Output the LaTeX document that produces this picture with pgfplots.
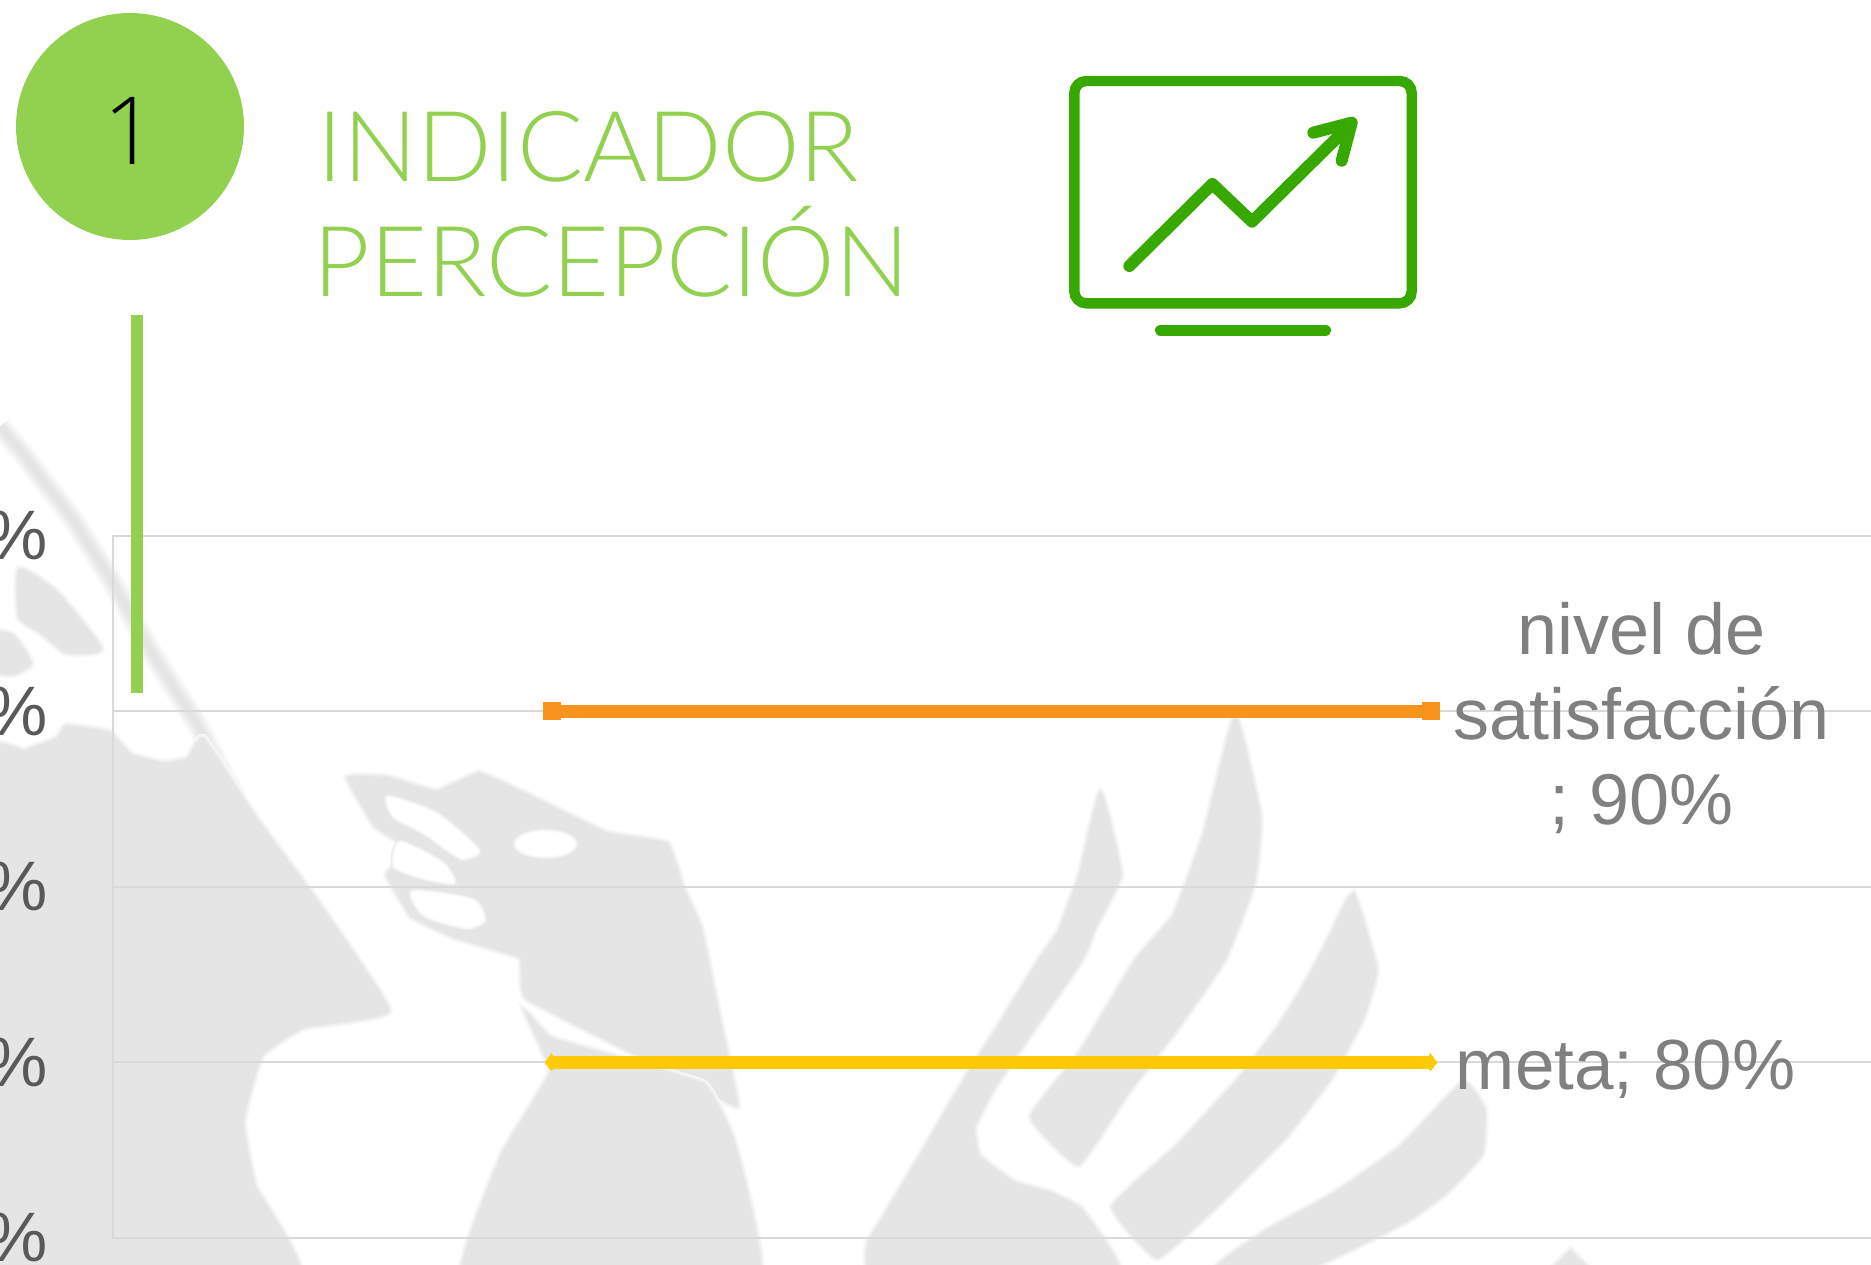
\documentclass[border=0pt]{standalone}
\usepackage{fontspec}
\setmainfont{Liberation Sans}
\newfontfamily\lightfont[UprightFont={* Light}]{Lato}
\newfontfamily\onefont[UprightFont={* Light}]{Open Sans}
\usepackage{pgfplots}
\pgfplotsset{compat=1.18}
\definecolor{wm}{HTML}{E5E5E5}
\definecolor{wmA}{HTML}{EAEAEA}
\definecolor{wmB}{HTML}{F1F1F1}
\definecolor{wmC}{HTML}{F8F8F8}
\definecolor{lime}{HTML}{92D050}
\definecolor{icon}{HTML}{37A800}
\definecolor{orangeL}{HTML}{F9931F}
\definecolor{yellowL}{HTML}{FFCB08}
\definecolor{gridc}{HTML}{D9D9D9}
\tikzset{
 wmp/.style={line join=round,
  preaction={draw=wmC,line width=5pt},
  preaction={draw=wmB,line width=3.4pt},
  preaction={draw=wmA,line width=2pt},
  fill=wm,draw=wm,line width=.8pt},
 holep/.style={line join=round,
  preaction={draw=wmA,line width=2.4pt},
  preaction={draw=wmB,line width=1.5pt},
  fill=white,draw=wmC,line width=.6pt}}
\begin{document}
\begin{tikzpicture}
\path[use as bounding box] (0pt,0pt) rectangle (935.5pt,632pt);
\clip (0pt,0pt) rectangle (935.5pt,632pt);
% ---- watermark (background decoration), in zoom-crop units
\begin{scope}[x=0.16667pt,y=-0.16667pt,shift={(0pt,482pt)}]
 \foreach \w/\c in {11pt/wmC,8.5pt/wmB,6pt/wmA,3.5pt/wm}
  \draw[\c,line width=\w,line join=round] (0,380) -- (60,450) -- (220,660) -- (340,850) -- (450,1050) -- (590,1270) -- (710,1500);
 \path[wmp] plot[smooth cycle,tension=.3] coordinates {(60,810) (170,880) (300,1045) (200,1055) (130,1000) (60,950)};
 \path[wmp] plot[smooth cycle,tension=.3] coordinates {(-20,1000) (40,1010) (90,1090) (40,1120) (-20,1110)};
\end{scope}
\begin{scope}[x=0.30303pt,y=-0.20542pt,shift={(0pt,322pt)}]
 \path[wmp] plot[smooth cycle,tension=.2] coordinates {(-30,1600) (-30,340) (40,320) (95,290) (110,260) (180,275) (215,330) (270,350) (310,340) (335,290) (420,480) (520,680) (640,950) (500,990) (430,1060) (400,1220) (420,1380) (490,1600)};
 \path[wmp] plot[smooth cycle,tension=.15] coordinates {(575,385) (640,385) (720,420) (790,375) (860,420) (1000,520) (1100,545) (1125,650) (1155,750) (1190,1000) (1215,1180) (1150,1130) (870,920) (860,820) (750,770) (680,720) (640,620) (680,560) (620,500)};
 \path[holep] (900,545) ellipse (50 and 32);
 \path[holep] plot[smooth cycle,tension=.4] coordinates {(640,430) (720,470) (790,560) (760,580) (700,520) (650,480)};
 \path[holep] plot[smooth cycle,tension=.4] coordinates {(680,660) (780,680) (800,730) (770,750) (700,720)};
 \path[holep] plot[smooth cycle,tension=.4] coordinates {(660,540) (730,590) (750,640) (700,630) (650,600)};
 \path[wmp] plot[smooth cycle,tension=.15] coordinates {(870,960) (910,1020) (1160,1130) (1210,1270) (1250,1600) (765,1600) (830,1300) (910,1100)};
\end{scope}
\begin{scope}[x=0.2551pt,y=-0.16667pt,shift={(400pt,152pt)}]
 % large left feather and body
 \path[wmp] plot[smooth cycle,tension=.2] coordinates {(589,-496) (627,-256) (580,-108) (550,0) (460,200) (380,380) (340,500) (350,590) (420,670) (490,700) (550,750) (620,940) (150,940) (135,850) (170,760) (240,580) (320,370) (390,200) (470,0) (508,-84) (550,-256)};
 \path[wmp] plot[smooth cycle,tension=.2] coordinates {(853,-724) (900,-429) (888,-231) (830,0) (740,200) (640,400) (545,610) (455,470) (550,280) (660,0) (734,-132) (794,-379)};
 \path[wmp] plot[smooth cycle,tension=.2] coordinates {(1084,-195) (1128,30) (1100,180) (1040,350) (950,530) (820,730) (700,890) (615,740) (740,560) (860,360) (940,200) (1000,50) (1040,-70)};
 \path[wmp] plot[smooth cycle,tension=.2] coordinates {(1300,370) (1340,450) (1335,580) (1270,690) (1190,780) (1000,920) (820,920) (920,810) (1050,700) (1180,560)};
 \path[wmp] (1475,930) -- (1510,875) -- (1545,930) -- cycle;
\end{scope}
% ---- chart
\begin{axis}[
 at={(56.5pt,13.25pt)},anchor=south west,scale only axis,
 width=887.79pt,height=351pt,
 xmin=-0.4989,xmax=1.5211,ymin=75,ymax=95,
 ytick={75,80,85,90,95},xtick=\empty,
 ymajorgrids,grid style={gridc,line width=1pt},
 axis line style={gridc,line width=1pt},
 major tick length=0pt,
 /pgf/number format/assume math mode=true,
 yticklabel={\pgfmathprintnumber{\tick}\%},
 yticklabel style={inner sep=0pt,anchor=east,xshift=-32.3pt,text=black!65,font=\fontsize{35}{42}\selectfont},
 clip=false,
]
\addplot[orangeL,line width=6.5pt,mark=square*,mark size=4.25pt,mark options={line width=0pt,fill=orangeL}]
 coordinates {(0,90) (1,90)}
 node[pos=1,anchor=west,xshift=8.4pt,yshift=-3.6pt,inner sep=0pt,align=center,text=black!50,font=\fontsize{36}{42.5}\selectfont]{nivel de\\satisfacción\\; 90\%};
\addplot[yellowL,line width=6.5pt,mark=diamond*,mark size=4.25pt,mark options={line width=0pt,fill=yellowL}]
 coordinates {(0,80) (1,80)}
 node[pos=1,anchor=west,xshift=9.4pt,yshift=-3.4pt,inner sep=0pt,text=black!50,font=\fontsize{35.5}{42.5}\selectfont]{meta; 80\%};
\end{axis}
% ---- header decoration
\fill[lime] (65.5pt,285.5pt) rectangle (71.5pt,474.5pt);
\fill[lime] (65pt,568.75pt) ellipse (57pt and 56.75pt);
\node[anchor=base,inner sep=0pt] at (65.2pt,549.5pt) {\onefont\fontsize{47}{47}\selectfont 1};
\node[anchor=base west,inner sep=0pt,text=lime] at (158.6pt,541.1pt) {\lightfont\fontsize{49}{49}\selectfont INDICADOR};
\node[anchor=base west,inner sep=0pt,text=lime] at (156.6pt,483.6pt) {\lightfont\fontsize{49}{49}\selectfont PERCEPCIÓN};
\begin{scope}[x=0.16667pt,y=-0.16667pt,shift={(520pt,607pt)}]
 \draw[icon,line width=5.2pt,rounded corners=6pt] (103,93) rectangle (1115,760);
 \draw[icon,line width=6pt,line cap=round,line join=round] (268,648) -- (517,402) -- (636,515) -- (930,225);
 \draw[icon,line width=6pt,line cap=round,line join=round] (820,248) -- (935,218) -- (905,332);
 \draw[icon,line width=5.7pt,line cap=round] (362,841) -- (856,841);
\end{scope}
\end{tikzpicture}
\end{document}
